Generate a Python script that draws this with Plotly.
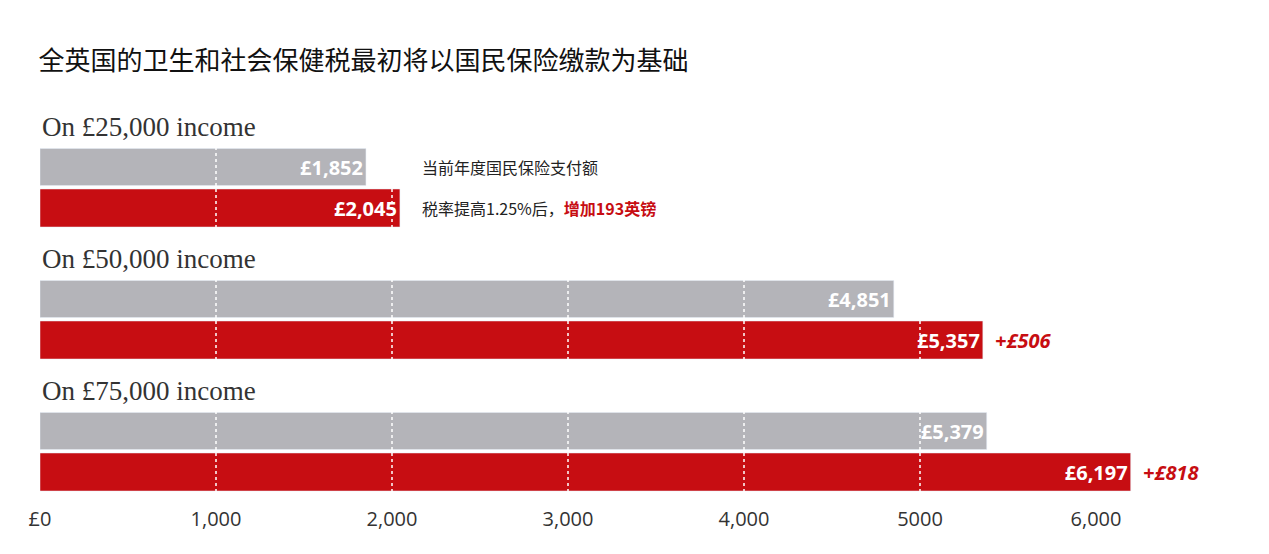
import plotly.graph_objects as go

groups = ["On £25,000 income", "On £50,000 income", "On £75,000 income"]
current = [1852, 4851, 5379]
after = [2045, 5357, 6197]
increase = [193, 506, 818]
tick_vals = [0, 1000, 2000, 3000, 4000, 5000, 6000]
tick_text = ["£0", "1,000", "2,000", "3,000", "4,000", "5000", "6,000"]
grid_vals = [1000, 2000, 3000, 4000, 5000]

GREY = "#b4b4b9"
RED = "#c70d12"

# pixel-like layout for the y axis
grey_y = [166 + 132 * i for i in range(3)]
red_y = [y + 41 for y in grey_y]

fig = go.Figure()
fig.add_trace(go.Bar(
    x=current, y=grey_y, orientation="h", width=37, marker_color=GREY,
    text=[f"<b>£{v:,}</b>" for v in current], textposition="inside", insidetextanchor="end",
    textfont=dict(color="white", size=20, family="Open Sans"), hoverinfo="x",
))
fig.add_trace(go.Bar(
    x=after, y=red_y, orientation="h", width=38, marker_color=RED,
    text=[f"<b>£{v:,}</b>" for v in after], textposition="inside", insidetextanchor="end",
    textfont=dict(color="white", size=20, family="Open Sans"), hoverinfo="x",
))

for gx in grid_vals:
    fig.add_shape(type="line", x0=gx, x1=gx, y0=140, y1=495, layer="above",
                  line=dict(color="white", width=1.5, dash="dot"))

for g, y in zip(groups, grey_y):
    fig.add_annotation(x=0, y=y - 40, text=g, showarrow=False, xanchor="left",
                       font=dict(family="Liberation Serif", size=27, color="#333"))

for v, inc, y in zip(after[1:], increase[1:], red_y[1:]):
    fig.add_annotation(x=v, y=y, text=f"<b><i>+£{inc}</i></b>", showarrow=False,
                       xanchor="left", xshift=10,
                       font=dict(family="Open Sans", size=20, color=RED))

fig.add_annotation(x=2160, y=grey_y[0], text="当前年度国民保险支付额", showarrow=False,
                   xanchor="left", font=dict(family="Noto Sans CJK SC", size=16, color="#222"))
fig.add_annotation(x=2160, y=red_y[0],
                   text=f"税率提高1.25%后，<span style='color:{RED}'><b>增加{increase[0]}英镑</b></span>",
                   showarrow=False, xanchor="left",
                   font=dict(family="Noto Sans CJK SC", size=16, color="#222"))

fig.update_layout(
    width=1269, height=554,
    paper_bgcolor="white", plot_bgcolor="white",
    margin=dict(l=32, r=5, t=93, b=57, autoexpand=False),
    showlegend=False, barmode="overlay",
    title=dict(text="全英国的卫生和社会保健税最初将以国民保险缴款为基础", x=0.024, y=0.905,
               xanchor="left", yanchor="middle",
               font=dict(family="Noto Sans CJK SC", size=26, color="#111")),
    xaxis=dict(range=[0, 7000], tickvals=tick_vals, ticktext=tick_text, automargin=False,
               showgrid=False, zeroline=False, showline=False, ticks="",
               tickfont=dict(family="Open Sans", size=20, color="#333")),
    yaxis=dict(range=[504, 100], visible=False, automargin=False),
)

fig.write_html("out.html")
